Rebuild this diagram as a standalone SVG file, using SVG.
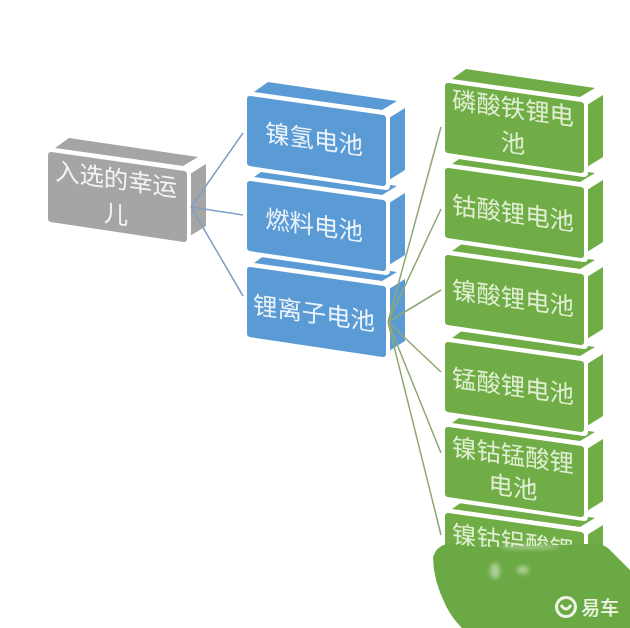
<svg xmlns="http://www.w3.org/2000/svg" width="630" height="628" viewBox="0 0 630 628">
<style>
.grey{fill:#a5a5a5;stroke:#a5a5a5}.blue{fill:#5b9bd5;stroke:#5b9bd5}.green{fill:#70ad47;stroke:#70ad47}
.face{stroke:none}
.halo{fill:#fff;stroke:#fff;stroke-width:8;stroke-linejoin:round}
.front{stroke-width:6;stroke-linejoin:round}
text{font-family:"Noto Sans CJK SC","Noto Sans",sans-serif;font-size:24.4px;fill:#fff;stroke:none;text-anchor:middle;opacity:.88}
.green text{fill:#f0f7e6}
.cb{stroke:#7f9fc4;stroke-width:1.5;fill:none}
.cg{stroke:#8fa873;stroke-width:1.5;fill:none}
.wm{font-size:19px;font-weight:500;fill:#eef5e6;opacity:1}
.mark{fill:none;stroke:#eef5e6;stroke-width:3}
</style>
<defs>
<g id="box">
<polygon class="face" points="7,-4 21,-14 150,5 135,14"/>
<polygon class="face" points="142,22 158,12 158,74 142,84"/>
<polygon class="halo" points="0,0 139,19 139,90 0,70"/>
<polygon class="front" points="3,3 136,22 136,87 3,67"/>
</g>
<filter id="soft" x="-50%" y="-50%" width="200%" height="200%"><feGaussianBlur stdDeviation="2"/></filter>
</defs>
<rect width="630" height="628" fill="#fff"/>
<g id="root" class="grey">
<use href="#box" x="48" y="152"/>
<text transform="translate(116,188) skewY(8)">入选的幸运</text>
<text transform="translate(116,223) skewY(8)">儿</text>
</g>
<g id="n-liion" class="blue">
<use href="#box" x="247" y="267"/>
<text transform="translate(314,322) skewY(8)">锂离子电池</text>
</g>
<g id="n-fuel" class="blue">
<use href="#box" x="247" y="181"/>
<text transform="translate(314,234) skewY(8)">燃料电池</text>
</g>
<g id="n-nimh" class="blue">
<use href="#box" x="247" y="96"/>
<text transform="translate(314,148) skewY(8)">镍氢电池</text>
</g>
<g id="g6" class="green">
<use href="#box" x="445" y="513"/>
<text transform="translate(513,551) skewY(8)">镍钴铝酸锂</text>
</g>
<g id="g5" class="green">
<use href="#box" x="445" y="427"/>
<text transform="translate(513,464) skewY(8)">镍钴锰酸锂</text>
<text transform="translate(513,496) skewY(8)">电池</text>
</g>
<g id="g4" class="green">
<use href="#box" x="445" y="342"/>
<text transform="translate(513,395) skewY(8)">锰酸锂电池</text>
</g>
<g id="g3" class="green">
<use href="#box" x="445" y="255"/>
<text transform="translate(513,307) skewY(8)">镍酸锂电池</text>
</g>
<g id="g2" class="green">
<use href="#box" x="445" y="168"/>
<text transform="translate(513,222) skewY(8)">钴酸锂电池</text>
</g>
<g id="g1" class="green">
<use href="#box" x="445" y="83"/>
<text transform="translate(513,117) skewY(8)">磷酸铁锂电</text>
<text transform="translate(513,152) skewY(8)">池</text>
</g>
<g id="connectors">
<path class="cb" d="M191 207L243 133M191 207L243 215M191 207L243 296"/>
<path class="cg" d="M388 322L441 127M388 322L441 209M388 322L441 290M388 322L441 372M388 322L441 453M388 322L441 535"/>
</g>
<g id="watermark">
<path fill="#6aa944" d="M433 557Q436 547 446 544Q470 547 500 547L587 544Q600 541 609 549Q620 560 630 570V628H462Q452 618 446 606Q433 580 433 557Z"/>
<g fill="#e8f0dc" opacity=".55" filter="url(#soft)">
<ellipse cx="495" cy="571" rx="5" ry="8"/>
<ellipse cx="523" cy="570" rx="6" ry="4"/>
<ellipse cx="530" cy="547" rx="30" ry="2"/>
</g>
<circle class="mark" cx="566" cy="607" r="9.5"/>
<path class="mark" d="M561 605Q566 613 571 605"/>
<text class="wm" x="600" y="615">易车</text>
</g>
</svg>
